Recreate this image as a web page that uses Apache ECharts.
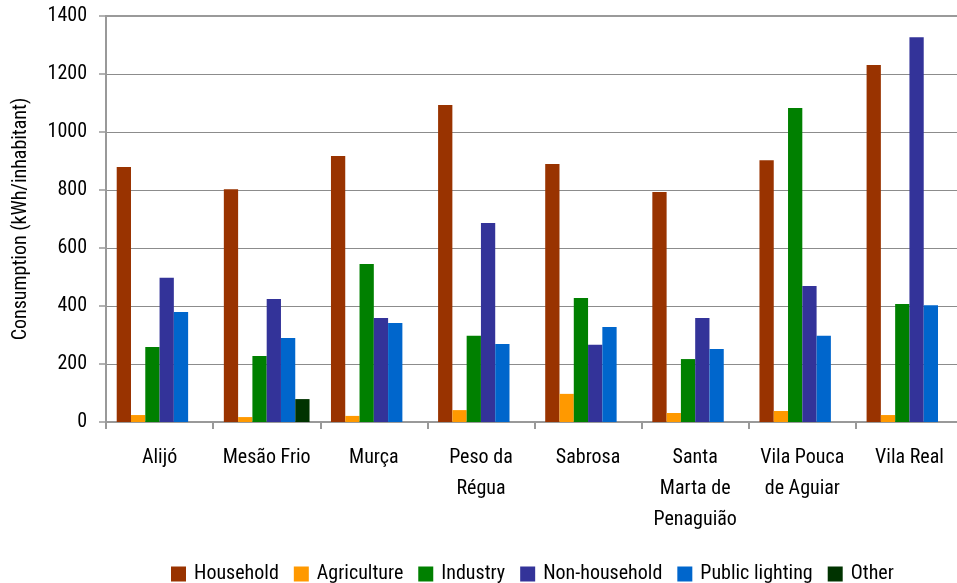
<!DOCTYPE html>
<html>
<head>
<meta charset="utf-8">
<script src="https://cdn.jsdelivr.net/npm/echarts@6/dist/echarts.min.js"></script>
<style>html,body{margin:0;padding:0;background:#fff}#c{width:957px;height:583px}</style>
</head>
<body>
<div id="c"></div>
<script>
var categories = ["Alijó", "Mesão Frio", "Murça", "Peso da\nRégua", "Sabrosa", "Santa\nMarta de\nPenaguião", "Vila Pouca\nde Aguiar", "Vila Real"];
var household = [879, 803, 917, 1093, 890, 793, 903, 1231];
var agriculture = [24, 17, 21, 41, 97, 31, 38, 24];
var industry = [259, 228, 545, 297, 428, 217, 1083, 407];
var nonHousehold = [497, 424, 359, 686, 266, 359, 469, 1327];
var publicLighting = [379, 290, 341, 269, 328, 252, 297, 403];
var other = [0, 79, 0, 0, 0, 0, 0, 0];
var yTicks = [0, 200, 400, 600, 800, 1000, 1200, 1400];

var FONT = '"Roboto Condensed", "Liberation Sans", sans-serif';
var names = ["Household", "Agriculture", "Industry", "Non-household", "Public lighting", "Other"];
var colors = ["#993300", "#FF9900", "#008000", "#333399", "#0066CC", "#003300"];
var dataSets = [household, agriculture, industry, nonHousehold, publicLighting, other];

var chart = echarts.init(document.getElementById('c'));
chart.setOption({
  animation: false,
  textStyle: { fontFamily: FONT },
  grid: { left: 106, top: 16, width: 857, height: 406, containLabel: false, outerBoundsMode: 'none' },
  legend: {
    top: 559, left: 166,
    itemWidth: 15, itemHeight: 15, itemGap: 15,
    icon: 'rect',
    textStyle: { fontFamily: FONT, fontSize: 20, color: '#000', padding: [0, 0, 0, 3] },
    data: names
  },
  xAxis: [{
    type: 'category',
    data: categories,
    boundaryGap: true,
    axisLine: { lineStyle: { color: '#999', width: 2 } },
    axisTick: { show: true, alignWithLabel: false, length: 7, lineStyle: { color: '#999', width: 2 } },
    axisLabel: { interval: 0, color: '#000', fontFamily: FONT, fontSize: 20, lineHeight: 31, margin: 20 },
    splitLine: { show: false }
  }, {
    type: 'category',
    data: categories,
    position: 'top',
    axisLine: { show: true, lineStyle: { color: '#9a9a9a', width: 2 } },
    axisTick: { show: false },
    axisLabel: { show: false },
    splitLine: { show: false }
  }],
  yAxis: {
    type: 'value',
    min: yTicks[0], max: yTicks[yTicks.length - 1], interval: 200,
    name: 'Consumption (kWh/inhabitant)',
    nameLocation: 'middle', nameGap: 75, nameRotate: 90,
    nameTextStyle: { fontFamily: FONT, fontSize: 20, color: '#000' },
    axisLine: { show: true, lineStyle: { color: '#999', width: 2 } },
    axisTick: { show: true, length: 7, lineStyle: { color: '#999', width: 1.5 } },
    axisLabel: { color: '#000', fontFamily: FONT, fontSize: 20, margin: 19, formatter: function (v) { return String(v); } },
    splitLine: { show: true, lineStyle: { color: '#8c8c8c', width: 1 } }
  },
  series: names.map(function (n, i) {
    return {
      name: n, type: 'bar', data: dataSets[i],
      barGap: '0%', barCategoryGap: '20%',
      itemStyle: { color: colors[i] }
    };
  })
});
</script>
</body>
</html>
